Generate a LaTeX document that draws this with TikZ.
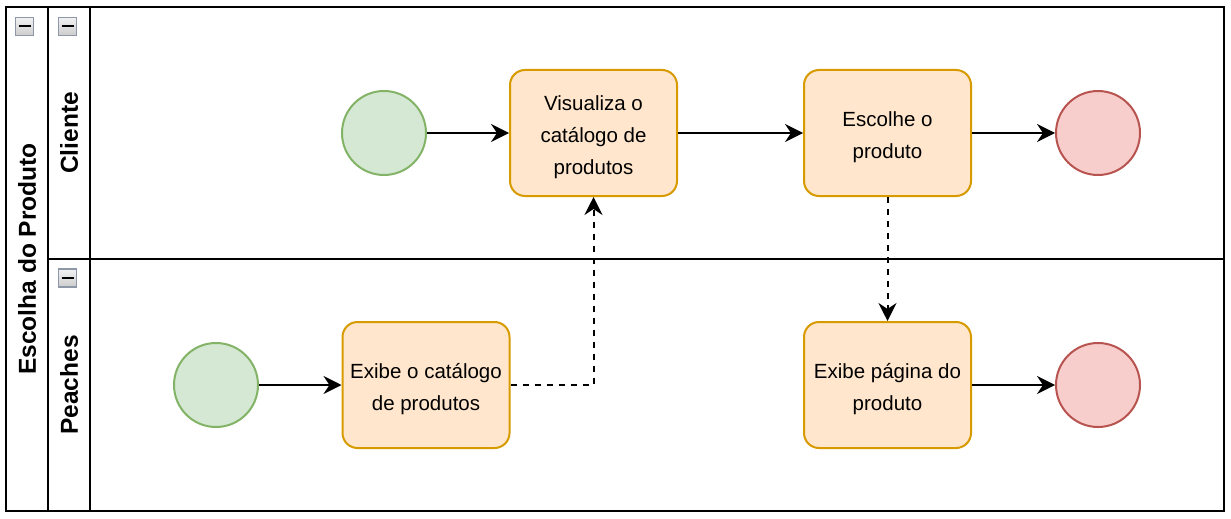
\documentclass[tikz,border=0pt]{standalone}
\usepackage{fontspec}
\setmainfont{Liberation Sans}
\usetikzlibrary{arrows.meta}
\definecolor{taskfill}{HTML}{FFE6CC}
\definecolor{taskline}{HTML}{D79B00}
\definecolor{startfill}{HTML}{D5E8D4}
\definecolor{startline}{HTML}{82B366}
\definecolor{endfill}{HTML}{F8CECC}
\definecolor{endline}{HTML}{B85450}
\definecolor{iconline}{HTML}{8E97A8}
\tikzset{
  task/.style={draw=taskline, fill=taskfill, line width=2pt, rounded corners=15pt,
    minimum width=167pt, minimum height=126pt, inner sep=0pt},
  tasktext/.style={inner sep=0pt, align=center, font=\fontsize{20.5}{32}\selectfont},
  startev/.style={circle, draw=startline, fill=startfill, line width=2pt, minimum size=84pt, inner sep=0pt},
  endev/.style={circle, draw=endline, fill=endfill, line width=2pt, minimum size=84pt, inner sep=0pt},
  flow/.style={line width=2pt, -{Stealth[length=18pt,width=18pt,inset=6pt]}},
  msg/.style={line width=2pt, dash pattern=on 6pt off 6pt, -{Stealth[length=18pt,width=18pt,inset=6pt]}},
  lanelabel/.style={font=\fontsize{24.5}{28}\selectfont\bfseries, rotate=90},
  pool/.style={line width=2pt},
  icon/.style={draw=iconline, line width=1.5pt, top color=gray!10, bottom color=gray!40}
}
\begin{document}
\begin{tikzpicture}[x=1pt,y=-1pt]
\useasboundingbox (0,0) rectangle (1231,519);
% pool and lanes
\draw[pool] (6,7) rectangle (1224,511);
\draw[pool] (48,7) -- (48,511);
\draw[pool] (90,7) -- (90,511);
\draw[pool] (48,259) -- (1224,259);
% labels
\node[lanelabel] (pooltitle) at (27,259) {Escolha do Produto};
\node[lanelabel] (lane1) at (69,133) {Cliente};
\node[lanelabel] (lane2) at (69,385) {Peaches};
% collapse icons
\foreach \ix/\iy [count=\k] in {24.5/26.5, 67.5/26.5, 67.5/278} {
  \node[icon, minimum size=18pt, inner sep=0pt] (icon\k) at (\ix,\iy) {};
  \draw[line width=2pt] (\ix-6,\iy) -- (\ix+6,\iy);
}
% nodes
\node[startev] (s1) at (384,133) {};
\node[task] (t1) at (593.5,133) {};
\node[tasktext] (t1txt) at ([yshift=-4pt]t1.center) {Visualiza o\\catálogo de\\produtos};
\node[task] (t2) at (887.5,133) {};
\node[tasktext] (t2txt) at ([yshift=-4pt]t2.center) {Escolhe o\\produto};
\node[endev] (e1) at (1098,133) {};
\node[startev] (s2) at (216,385) {};
\node[task] (t3) at (426,385) {};
\node[tasktext] (t3txt) at ([yshift=-4pt]t3.center) {Exibe o catálogo\\de produtos};
\node[task] (t4) at (887.5,385) {};
\node[tasktext] (t4txt) at ([yshift=-4pt]t4.center) {Exibe página do\\produto};
\node[endev] (e2) at (1098,385) {};
% flows
\draw[flow] (s1) -- (t1);
\draw[flow] (t1) -- (t2);
\draw[flow] (t2) -- (e1);
\draw[flow] (s2) -- (t3);
\draw[flow] (t4) -- (e2);
\draw[msg] (t3.east) -| (t1.south);
\draw[msg] (t2.south) -- (t4.north);
\end{tikzpicture}
\end{document}
